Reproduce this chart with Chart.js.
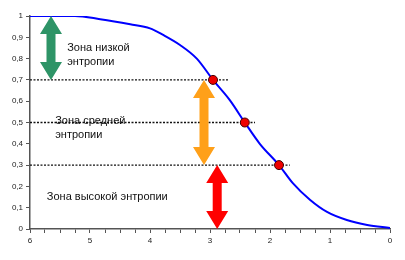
<!DOCTYPE html>
<html>
<head>
<meta charset="utf-8">
<script src="https://cdn.jsdelivr.net/npm/chart.js@4.4.1/dist/chart.umd.min.js"></script>
<style>
  html, body { margin: 0; padding: 0; background: #fff; }
  #wrap { width: 405px; height: 260px; }
</style>
</head>
<body>
<div id="wrap"><canvas id="c"></canvas></div>
<script>
// curve
const curveX = [6, 5.25, 4.83, 4.33, 4.0, 3.78, 3.5, 3.22, 2.95, 2.67, 2.42, 2.17, 1.85, 1.62, 1.33, 1.05, 0.72, 0.38, 0];
const curveY = [1, 1, 0.985, 0.961, 0.942, 0.911, 0.864, 0.80, 0.70, 0.605, 0.50, 0.40, 0.30, 0.215, 0.136, 0.08, 0.042, 0.019, 0.005];

// marked points and their dashed levels
const markX = [2.95, 2.42, 1.85];
const markY = [0.7, 0.5, 0.3];
const levelEndX = [2.7, 2.25, 1.67];

// zone arrows: x, from, to
const arrowX = [5.65, 3.1, 2.88];
const arrowFrom = [1, 0.7, 0.3];
const arrowTo = [0.7, 0.3, 0];
const arrowColors = ['#2e9467', '#ffa019', '#ff0000'];

const zoneLabels = [
  ['Зона низкой', 'энтропии'],
  ['Зона средней', 'энтропии'],
  ['Зона высокой энтропии']
];
const labelAt = [[5.38, 0.85], [5.58, 0.507], [5.72, 0.15]];

const datasets = [{
  data: curveX.map((x, i) => ({ x: x, y: curveY[i] })),
  borderColor: '#0000ff',
  borderWidth: 2,
  pointRadius: 0,
  cubicInterpolationMode: 'monotone',
  order: 1
}];

markY.forEach((y, i) => {
  datasets.push({
    data: [{ x: 6, y: y }, { x: levelEndX[i], y: y }],
    borderColor: '#111',
    borderWidth: 1.3,
    borderDash: [2, 1.5],
    pointRadius: 0,
    order: 3
  });
});

datasets.push({
  type: 'scatter',
  data: markX.map((x, i) => ({ x: x, y: markY[i] })),
  backgroundColor: '#ee0000',
  borderColor: '#440000',
  borderWidth: 1,
  pointRadius: 4.5,
  order: 0
});

function drawArrow(ctx, x, y1, y2, color) {
  const head = 18, hw = 11, sw = 4.5;
  ctx.save();
  ctx.fillStyle = color;
  ctx.beginPath();
  ctx.moveTo(x, y1);
  ctx.lineTo(x + hw, y1 + head);
  ctx.lineTo(x + sw, y1 + head);
  ctx.lineTo(x + sw, y2 - head);
  ctx.lineTo(x + hw, y2 - head);
  ctx.lineTo(x, y2);
  ctx.lineTo(x - hw, y2 - head);
  ctx.lineTo(x - sw, y2 - head);
  ctx.lineTo(x - sw, y1 + head);
  ctx.lineTo(x - hw, y1 + head);
  ctx.closePath();
  ctx.fill();
  ctx.restore();
}

const extras = {
  id: 'extras',
  afterDatasetsDraw(chart) {
    const ctx = chart.ctx;
    const xs = chart.scales.x, ys = chart.scales.y;
    arrowX.forEach((x, i) => {
      drawArrow(ctx, xs.getPixelForValue(x), ys.getPixelForValue(arrowFrom[i]),
        ys.getPixelForValue(arrowTo[i]), arrowColors[i]);
    });
    ctx.save();
    ctx.fillStyle = '#111';
    ctx.font = '11px "Liberation Sans", Arial, sans-serif';
    ctx.textBaseline = 'middle';
    zoneLabels.forEach((lines, i) => {
      const px = xs.getPixelForValue(labelAt[i][0]);
      const py = ys.getPixelForValue(labelAt[i][1]);
      lines.forEach((t, j) => ctx.fillText(t, px, py + j * 14));
    });
    ctx.restore();
  }
};

new Chart(document.getElementById('c'), {
  type: 'line',
  data: { datasets: datasets },
  plugins: [extras],
  options: {
    responsive: true,
    maintainAspectRatio: false,
    animation: false,
    layout: { padding: { top: 16, right: 15, left: 0, bottom: 0 } },
    plugins: { legend: { display: false }, tooltip: { enabled: false } },
    scales: {
      x: {
        type: 'linear',
        reverse: true,
        min: 0,
        max: 6,
        afterFit: s => { s.height = 31; },
        grid: { drawOnChartArea: false, tickLength: 4, color: '#555' },
        border: { color: '#555', dash: [2, 1], width: 1.5 },
        ticks: {
          stepSize: 0.25,
          autoSkip: false,
          maxRotation: 0,
          padding: 3,
          color: '#222',
          font: { family: '"Liberation Sans", Arial', size: 8 },
          callback: v => Number.isInteger(v) ? String(v) : ''
        }
      },
      y: {
        min: 0,
        max: 1,
        afterFit: s => { s.width = 30; },
        grid: { drawOnChartArea: false, tickLength: 4, color: '#555' },
        border: { color: '#555', dash: [2, 1], width: 1.5 },
        ticks: {
          stepSize: 0.1,
          padding: 3,
          color: '#222',
          font: { family: '"Liberation Sans", Arial', size: 8 },
          callback: v => String(Math.round(v * 10) / 10).replace('.', ',')
        }
      }
    }
  }
});
</script>
</body>
</html>
